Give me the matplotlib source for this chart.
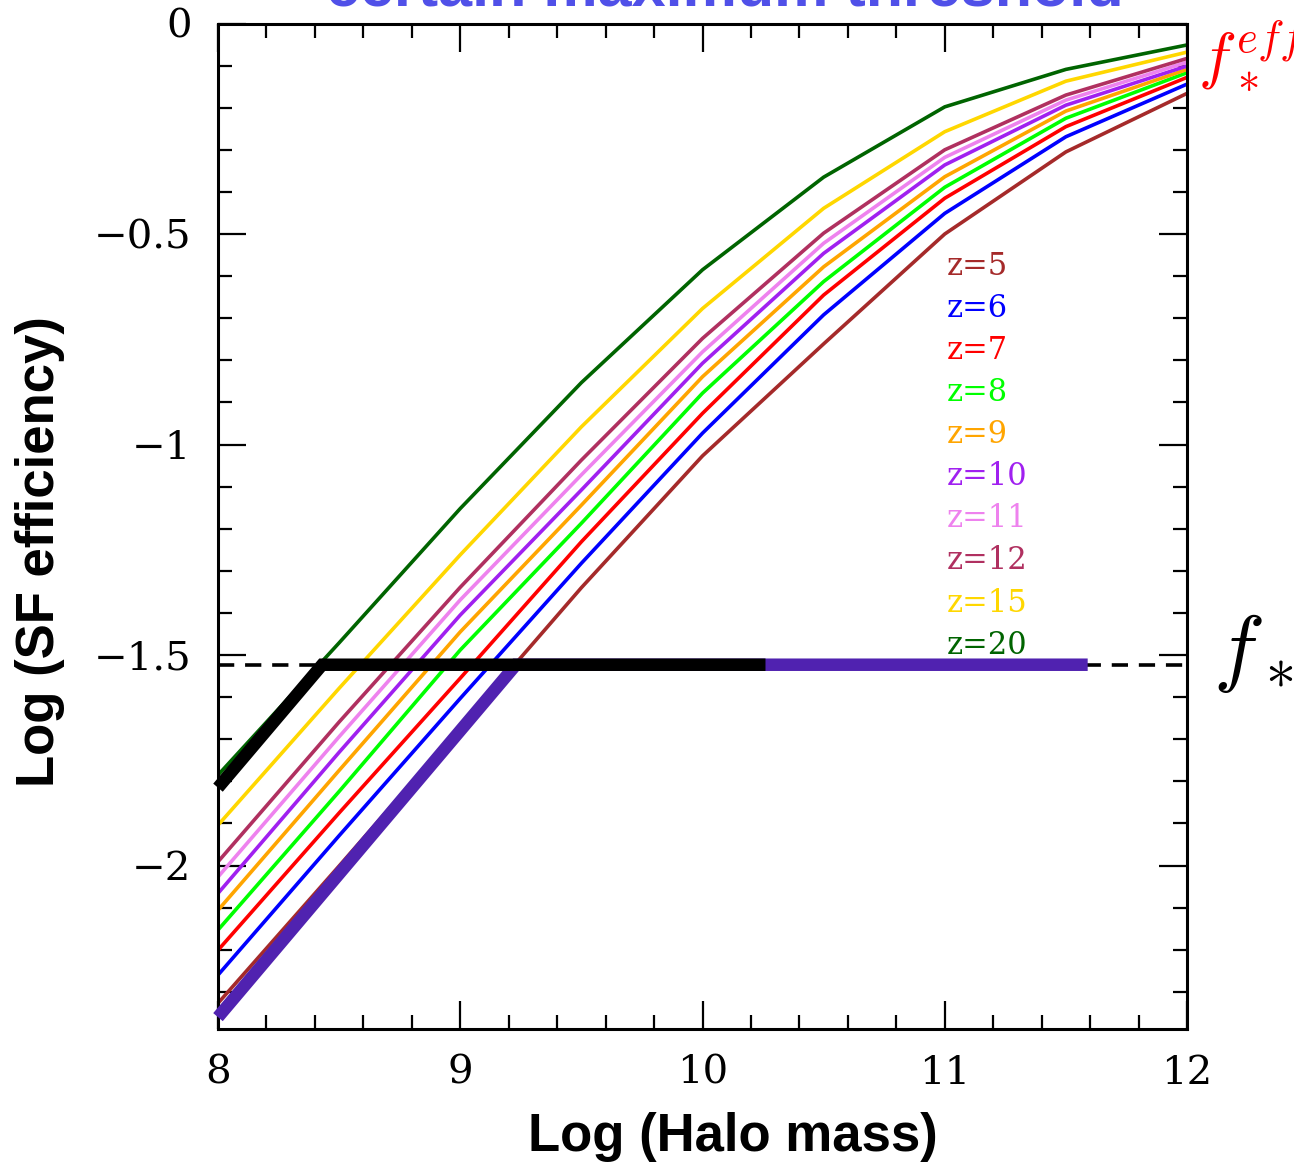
import numpy as np
import matplotlib.pyplot as plt
from matplotlib.ticker import MultipleLocator, FuncFormatter

plt.rcParams['mathtext.fontset'] = 'cm'

# log halo mass grid and log SF efficiency for each redshift
halo_mass = [8.0, 8.5, 9.0, 9.5, 10.0, 10.5, 11.0, 11.5, 12.0]
eff_z5 = [-2.327, -2.001, -1.672, -1.340, -1.027, -0.761, -0.500, -0.305, -0.166]
eff_z6 = [-2.260, -1.929, -1.603, -1.282, -0.973, -0.692, -0.451, -0.269, -0.144]
eff_z7 = [-2.201, -1.875, -1.555, -1.231, -0.926, -0.645, -0.415, -0.245, -0.128]
eff_z8 = [-2.153, -1.824, -1.488, -1.187, -0.878, -0.613, -0.389, -0.225, -0.117]
eff_z9 = [-2.106, -1.774, -1.445, -1.144, -0.839, -0.578, -0.364, -0.208, -0.109]
eff_z10 = [-2.066, -1.731, -1.405, -1.108, -0.807, -0.546, -0.336, -0.194, -0.101]
eff_z11 = [-2.027, -1.694, -1.369, -1.072, -0.780, -0.522, -0.318, -0.182, -0.092]
eff_z12 = [-1.991, -1.659, -1.339, -1.037, -0.748, -0.498, -0.300, -0.170, -0.083]
eff_z15 = [-1.904, -1.579, -1.262, -0.958, -0.677, -0.439, -0.257, -0.137, -0.068]
eff_z20 = [-1.785, -1.471, -1.152, -0.853, -0.585, -0.365, -0.198, -0.109, -0.051]

redshifts = [5, 6, 7, 8, 9, 10, 11, 12, 15, 20]
curves = [eff_z5, eff_z6, eff_z7, eff_z8, eff_z9, eff_z10, eff_z11, eff_z12, eff_z15, eff_z20]
colors = ['#a52a2a', '#0000ff', '#ff0000', '#00ff00', '#ffa500',
          '#a020f0', '#ee82ee', '#b03060', '#ffd700', '#006400']

# constant threshold f_* = 0.03 and the two capped tracks
f_star = -1.523
low_x = [8.0, 9.23, 11.59]
low_y = [-2.36, f_star, f_star]
high_x = [8.0, 8.43, 10.26]
high_y = [-1.815, f_star, f_star]

W, H = 1294, 1163
fig = plt.figure(figsize=(W / 100, H / 100), dpi=100)
ax = fig.add_axes([218 / W, 1 - 1028.5 / H, 969 / W, 1005 / H])

for yv, c in zip(curves, colors):
    ax.plot(halo_mass, yv, color=c, lw=2.6, zorder=2)

ax.axhline(f_star, color='black', lw=2.6, dashes=(4.5, 3), zorder=3)
ax.plot(low_x, low_y, color='#5022b0', lw=9, solid_capstyle='butt',
        solid_joinstyle='miter', clip_on=False, zorder=4)
ax.plot(high_x, high_y, color='black', lw=9, solid_capstyle='butt',
        solid_joinstyle='miter', clip_on=False, zorder=5)

# redshift labels
for i, (z, c) in enumerate(zip(redshifts, colors)):
    ax.text(11.01, -0.578 - 0.0998 * i, 'z=%d' % z, color=c, fontsize=22,
            family='DejaVu Serif', ha='left', va='center')

ax.set_xlim(8, 12)
ax.set_ylim(-2.387, 0)
ax.xaxis.set_major_locator(MultipleLocator(1))
ax.xaxis.set_minor_locator(MultipleLocator(0.2))
ax.yaxis.set_major_locator(MultipleLocator(0.5))
ax.yaxis.set_minor_locator(MultipleLocator(0.1))
fmt = FuncFormatter(lambda v, p: ('%g' % v).replace('-', '\u2212'))
ax.xaxis.set_major_formatter(fmt)
ax.yaxis.set_major_formatter(fmt)
ax.tick_params(which='both', direction='in', top=True, right=True, width=1.6)
ax.tick_params(which='major', length=20, labelsize=29, pad=19)
ax.tick_params(which='minor', length=10)
for lab in ax.get_xticklabels() + ax.get_yticklabels():
    lab.set_family('DejaVu Serif')
for s in ax.spines.values():
    s.set_linewidth(2.2)

fig.text(733 / W, 1 - 1137 / H, 'Log (Halo mass)', fontsize=38, fontweight='bold',
         family='Liberation Sans', ha='center', va='center')
fig.text(40 / W, 1 - 552 / H, 'Log (SF efficiency)', fontsize=38, fontweight='bold',
         family='Liberation Sans', ha='center', va='center', rotation=90)
fig.text(725 / W, 1 - 5 / H, 'certain maximum threshold', fontsize=44,
         fontweight='bold', family='Liberation Sans', color='#5050e8',
         ha='center', va='baseline')
fig.text(1198 / W, 1 - 20 / H, r'$f_*^{eff}$', color='red', fontsize=46,
         ha='left', va='top')
fig.text(1213 / W, 1 - 612 / H, r'$f_*$', color='black', fontsize=62,
         ha='left', va='top')

fig.savefig('out.png', dpi=100)
